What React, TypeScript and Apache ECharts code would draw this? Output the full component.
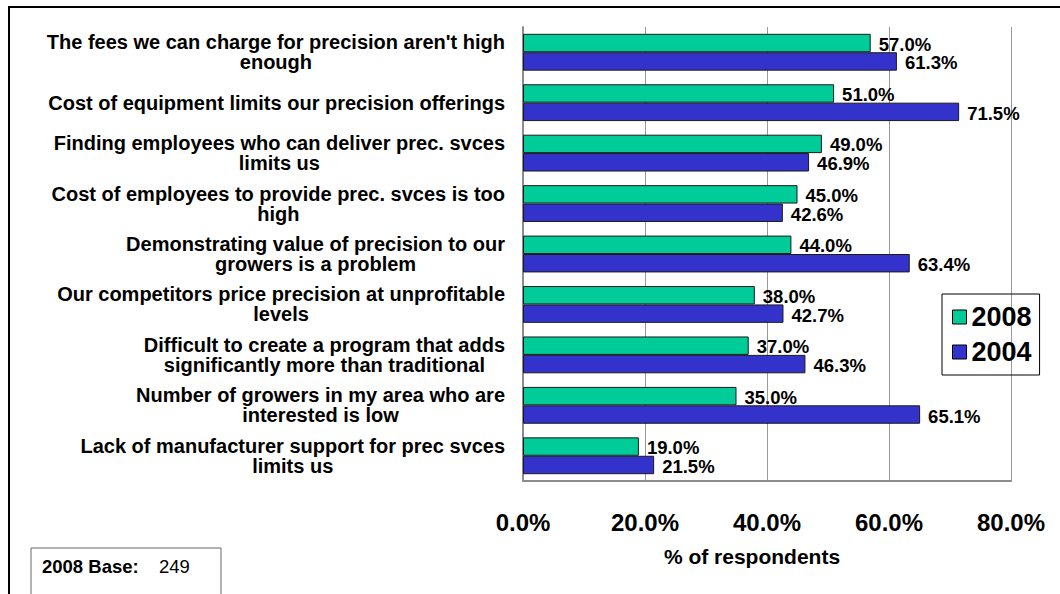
import React, { useEffect, useRef } from "react";
import * as echarts from "echarts";

const categories: string[] = [
  "The fees we can charge for precision aren't high\nenough",
  "Cost of equipment limits our precision offerings",
  "Finding employees who can deliver prec. svces\nlimits us",
  "Cost of employees to provide prec. svces is too\nhigh",
  "Demonstrating value of precision to our\ngrowers is a problem",
  "Our competitors price precision at unprofitable\nlevels",
  "Difficult to create a program that adds\nsignificantly more than traditional",
  "Number of growers in my area who are\ninterested is low",
  "Lack of manufacturer support for prec svces\nlimits us",
];
const values2008: number[] = [57.0, 51.0, 49.0, 45.0, 44.0, 38.0, 37.0, 35.0, 19.0];
const values2004: number[] = [61.3, 71.5, 46.9, 42.6, 63.4, 42.7, 46.3, 65.1, 21.5];
const seriesNames: string[] = ["2008", "2004"];
const baseLabel = "2008 Base:";
const baseValue = "249";

const ARIAL = "Arial, 'Liberation Sans', sans-serif";

export default function App() {
  const ref = useRef<HTMLDivElement>(null);
  useEffect(() => {
    if (!ref.current) return;
    const chart = echarts.init(ref.current, undefined, { renderer: "svg" });
    const labelStyle = {
      show: true,
      position: "right",
      distance: 8,
      formatter: (p: any) => p.value.toFixed(1) + "%",
      fontFamily: ARIAL,
      fontWeight: "bold",
      fontSize: 18.5,
      lineHeight: 18,
      color: "#000",
    };
    chart.setOption({
      animation: false,
      backgroundColor: "#fff",
      textStyle: { fontFamily: ARIAL },
      grid: { left: 523, right: 49, top: 27, bottom: 113, containLabel: false },
      legend: {
        orient: "vertical",
        left: 942,
        top: 294,
        padding: [8, 8, 8, 10],
        itemGap: 5,
        itemWidth: 14,
        itemHeight: 14,
        itemStyle: { borderColor: "#000", borderWidth: 1 },
        borderColor: "#000",
        borderWidth: 1,
        icon: "rect",
        textStyle: { fontFamily: ARIAL, fontWeight: "bold", fontSize: 27, lineHeight: 30, color: "#000" },
        data: seriesNames,
      },
      xAxis: {
        type: "value",
        min: 0,
        max: 80,
        interval: 20,
        name: "% of respondents",
        nameLocation: "middle",
        nameGap: 65,
        nameTextStyle: {
          fontFamily: ARIAL,
          fontWeight: "bold",
          fontSize: 21,
          color: "#000",
          padding: [0, 30, 0, 0],
        },
        axisLine: { show: true, lineStyle: { color: "#8c8c8c", width: 2 } },
        axisTick: { show: false },
        axisLabel: {
          margin: 29,
          formatter: (v: number) => v.toFixed(1) + "%",
          fontFamily: ARIAL,
          fontWeight: "bold",
          fontSize: 24,
          color: "#000",
        },
        splitLine: { show: true, lineStyle: { color: "#999", width: 1 } },
      },
      yAxis: {
        type: "category",
        inverse: true,
        data: categories,
        axisLine: { show: true, lineStyle: { color: "#8c8c8c", width: 2 } },
        axisTick: { show: false },
        axisLabel: {
          margin: 18,
          interval: 0,
          formatter: (v: string) => v.split("\n").map((l) => `{c|${l}}`).join("\n"),
          rich: {
            c: {
              align: "center",
              fontFamily: ARIAL,
              fontWeight: "bold",
              fontSize: 20,
              lineHeight: 20,
              color: "#000",
            },
          },
        },
      },
      series: [
        {
          name: seriesNames[0],
          type: "bar",
          data: values2008,
          barCategoryGap: "27%",
          barGap: "0%",
          itemStyle: { color: "#00CC99", borderColor: "#1a1a1a", borderWidth: 1 },
          label: { ...labelStyle, offset: [0, 1] },
        },
        {
          name: seriesNames[1],
          type: "bar",
          data: values2004,
          barCategoryGap: "27%",
          barGap: "0%",
          itemStyle: { color: "#3333CC", borderColor: "#1a1a1a", borderWidth: 1 },
          label: { ...labelStyle, offset: [0, 1.5] },
        },
      ],
      graphic: [
        {
          type: "line",
          shape: { x1: 8, y1: 7, x2: 1060, y2: 7 },
          style: { stroke: "#000", lineWidth: 2 },
        },
        {
          type: "line",
          shape: { x1: 9, y1: 6, x2: 9, y2: 594 },
          style: { stroke: "#000", lineWidth: 2 },
        },
        {
          type: "rect",
          shape: { x: 31, y: 548, width: 190, height: 60 },
          style: { fill: "#fff", stroke: "#666", lineWidth: 1 },
        },
        {
          type: "text",
          x: 42,
          y: 566,
          style: {
            text: baseLabel,
            verticalAlign: "middle",
            fontFamily: ARIAL,
            fontWeight: "bold",
            fontSize: 18.5,
            fill: "#000",
          },
        },
        {
          type: "text",
          x: 159,
          y: 566,
          style: {
            text: baseValue,
            verticalAlign: "middle",
            fontFamily: ARIAL,
            fontWeight: "normal",
            fontSize: 18.5,
            fill: "#000",
          },
        },
      ],
    });
    return () => chart.dispose();
  }, []);
  return (
    <div
      ref={ref}
      style={{ position: "absolute", left: 0, top: 0, width: 1060, height: 594 }}
    />
  );
}
